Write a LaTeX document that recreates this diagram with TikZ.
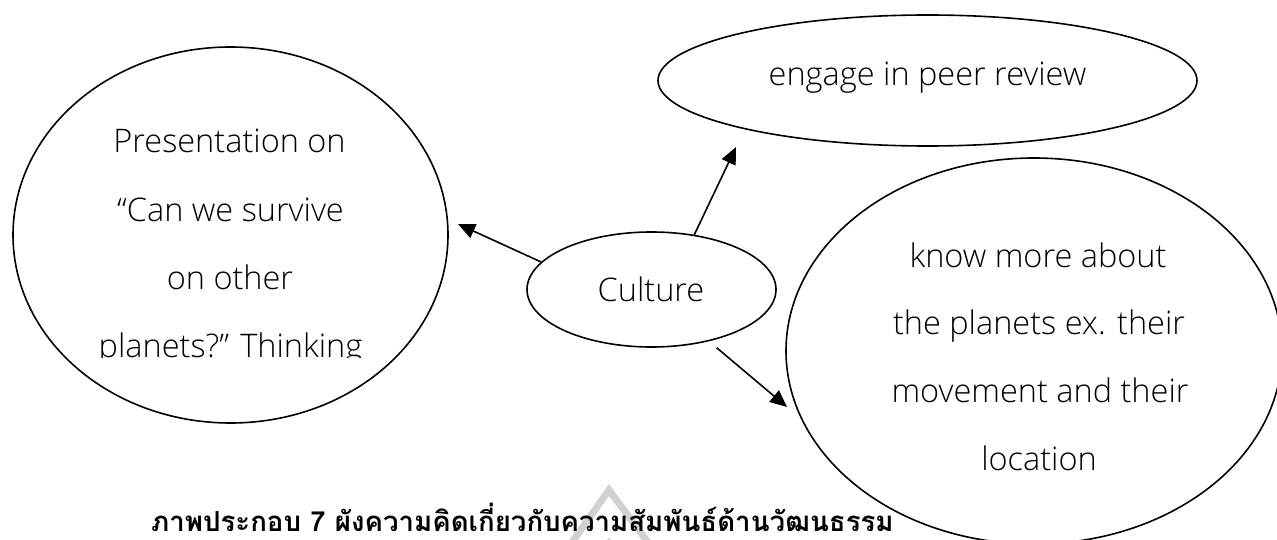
\documentclass[tikz,border=0pt]{standalone}
\usepackage{fontspec}
\setmainfont{Open Sans Light}
\newfontfamily\thaifont[Script=Thai]{Loma}
\usetikzlibrary{shapes.geometric,arrows.meta}
\tikzset{
  bubble/.style={draw=black,line width=1.6pt,ellipse,inner sep=0pt,fill=white},
  label/.style={font=\fontsize{32.5}{32.5}\selectfont,text=black,anchor=base},
  link/.style={line width=1.6pt,-{Stealth[length=17pt,width=15pt,inset=0pt]}},
  mark line/.style={black!18,line width=7pt}
}
\begin{document}
\begin{tikzpicture}[x=1pt,y=-1pt]
\useasboundingbox (0,0) rectangle (1277,540);
\fill[white] (0,0) rectangle (1277,540);
\begin{scope}
\clip (0,0) rectangle (1277,540);
\draw[mark line] (570,545) -- (609,490) -- (650,545);
\draw[mark line] (590,565) -- (609,543) -- (628,565);
\node[bubble,minimum width=435pt,minimum height=376pt] (left) at (230.5,235) {};
\node[bubble,minimum width=539pt,minimum height=131pt] (top) at (927.5,80.5) {};
\node[bubble,minimum width=496pt,minimum height=386pt] (right) at (1034,351) {};
\end{scope}
\node[bubble,minimum width=249pt,minimum height=115pt] (culture) at (651.5,289.5) {};
\node[label] (t1) at (229.5,153) {Presentation on};
\node[label] (t2) at (230.5,222) {“Can we survive};
\node[label] (t3) at (230,289) {on other};
\begin{scope}
\clip (0,300) rectangle (1277,357);
\node[label] (t4) at (230.5,357) {planets?” Thinking};
\end{scope}
\node[label] (t5) at (927.5,86) {engage in peer review};
\node[label] (t6) at (651,301) {Culture};
\node[label] (t7) at (1038,267) {know more about};
\node[label] (t8) at (1039,334) {the planets ex. their};
\node[label] (t9) at (1040,402) {movement and their};
\node[label] (t10) at (1039,470) {location};
\coordinate (endL) at (458,224);
\coordinate (endT) at (736,147);
\coordinate (endR) at (787,407);
\draw[link] (culture.166) -- (endL);
\draw[link] (culture.52) -- (endT);
\draw[link,shorten <=10pt] (culture.-42) -- (endR);
\node[font=\thaifont\bfseries\fontsize{27.6}{27.6}\selectfont,anchor=base west,inner sep=0pt] (cap) at (151,531) {ภาพประกอบ 7 ผังความคิดเกี่ยวกับความสัมพันธ์ด้านวัฒนธรรม};
\end{tikzpicture}
\end{document}
